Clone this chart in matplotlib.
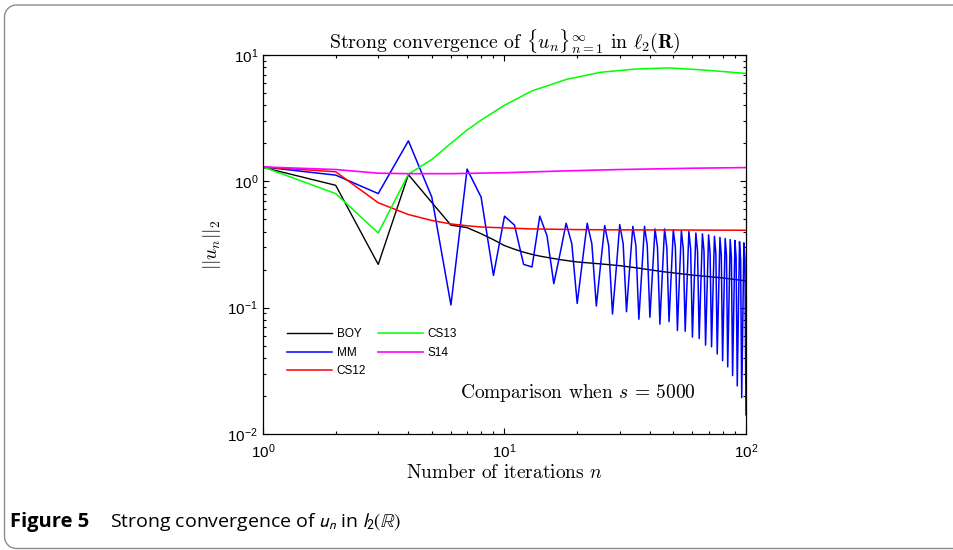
import matplotlib
matplotlib.use("Agg")
import numpy as np
import matplotlib.pyplot as plt
from matplotlib.lines import Line2D
from matplotlib.ticker import LogLocator, NullFormatter

plt.rcParams["mathtext.fontset"] = "cm"
plt.rcParams["font.family"] = ["Liberation Sans", "DejaVu Sans"]

# MM: every iteration n = 1..100
mm_n = list(range(1, 101))
mm_vals = [
    1.30, 1.12, 0.80, 2.09, 0.75, 0.105, 1.25, 0.75, 0.18, 0.53,
    0.45, 0.22, 0.21, 0.53, 0.37, 0.155, 0.27, 0.466, 0.32, 0.108,
    0.23, 0.466, 0.32, 0.103, 0.22, 0.447, 0.31, 0.089, 0.20, 0.455,
    0.32, 0.093, 0.21, 0.44, 0.31, 0.081, 0.19, 0.44, 0.31, 0.084,
    0.19, 0.42, 0.30, 0.074, 0.18, 0.42, 0.30, 0.0775, 0.18, 0.413,
    0.30, 0.066, 0.17, 0.407, 0.29, 0.065, 0.16, 0.40, 0.29, 0.0585,
    0.155, 0.39, 0.28, 0.057, 0.15, 0.384, 0.28, 0.0505, 0.14, 0.377,
    0.27, 0.049, 0.135, 0.367, 0.27, 0.043, 0.125, 0.36, 0.26, 0.038,
    0.12, 0.353, 0.26, 0.034, 0.11, 0.346, 0.25, 0.029, 0.10, 0.34,
    0.25, 0.024, 0.09, 0.333, 0.24, 0.0194, 0.08, 0.326, 0.24, 0.0142,
]

boy_n = [1, 2, 3, 4, 5, 6, 7, 8, 9, 10, 11, 12, 13, 14, 15, 17, 20, 25, 30, 35, 45, 60, 80, 100]
boy_vals = [1.29, 0.93, 0.22, 1.13, 0.68, 0.45, 0.43, 0.385, 0.345, 0.31, 0.29, 0.275,
            0.264, 0.256, 0.25, 0.24, 0.23, 0.222, 0.215, 0.207, 0.193, 0.181, 0.172, 0.163]

cs12_n = [1, 2, 3, 4, 5, 6, 7, 8, 10, 13, 20, 30, 50, 100]
cs12_vals = [1.3, 1.19, 0.677, 0.546, 0.49, 0.46, 0.445, 0.435, 0.428, 0.42, 0.415, 0.413, 0.412, 0.41]

cs13_n = [1, 2, 3, 4, 5, 6, 7, 8, 10, 13, 18, 25, 35, 48, 64, 80, 100]
cs13_vals = [1.3, 0.8, 0.39, 1.14, 1.49, 2.0, 2.55, 3.05, 4.0, 5.2, 6.4, 7.3, 7.75, 7.9, 7.65, 7.4, 7.15]

s14_n = [1, 2, 3, 4, 6, 10, 18, 30, 60, 100]
s14_vals = [1.3, 1.24, 1.16, 1.15, 1.15, 1.17, 1.21, 1.24, 1.27, 1.285]

W, H = 954, 550
fig = plt.figure(figsize=(W / 100, H / 100), dpi=100)

# journal figure frame: open outline, right side runs off the picture
r, x0, yb, yt = 12, 4.5, 1.5, 545
t = np.linspace(0, np.pi / 2, 20)
top_corner = list(zip(x0 + r - r * np.sin(t), yt - r + r * np.cos(t)))
bot_corner = list(zip(x0 + r - r * np.cos(t), yb + r - r * np.sin(t)))
pts = [(W + 50, yt)] + top_corner + bot_corner + [(W + 50, yb)]
fx, fy = zip(*pts)
fig.add_artist(Line2D(np.array(fx) / W, np.array(fy) / H, transform=fig.transFigure,
                      color="#8c8c8c", lw=1.0))

ax = fig.add_axes([263 / W, 1 - 434 / H, 483 / W, 379 / H])

ax.plot(boy_n, boy_vals, color="black", lw=1.0, label="BOY")
ax.plot(mm_n, mm_vals, color="blue", lw=1.1, label="MM")
ax.plot(cs12_n, cs12_vals, color="red", lw=1.1, label="CS12")
ax.plot(cs13_n, cs13_vals, color="#00ff00", lw=1.1, label="CS13")
ax.plot(s14_n, s14_vals, color="magenta", lw=1.2, label="S14")

ax.set_xscale("log")
ax.set_yscale("log")
ax.set_xlim(1, 100)
ax.set_ylim(0.01, 10)
ax.xaxis.set_minor_locator(LogLocator(base=10, subs=range(2, 10)))
ax.yaxis.set_minor_locator(LogLocator(base=10, subs=range(2, 10)))
ax.xaxis.set_minor_formatter(NullFormatter())
ax.yaxis.set_minor_formatter(NullFormatter())
ax.tick_params(which="both", direction="in", top=True, right=True, labelsize=11)
ax.tick_params(axis="x", which="major", pad=6)
ax.tick_params(which="major", length=4.5, width=0.8)
ax.tick_params(which="minor", length=2.5, width=0.8)
for s in ax.spines.values():
    s.set_linewidth(0.9)

ax.set_title(r"Strong convergence of $\{u_n\}_{n=1}^{\infty}$ in $\ell_2(\mathbf{R})$",
             fontfamily="cmr10", fontsize=14.3, pad=5)
ax.set_xlabel(r"Number of iterations $n$", fontfamily="cmr10", fontsize=14, labelpad=2)
ax.set_ylabel(r"$||u_n||_2$", fontsize=14, labelpad=3)

ax.text(0.652, 0.108, r"Comparison when $s\,=\,5000$", transform=ax.transAxes,
        fontfamily="cmr10", fontsize=14, ha="center", va="center")

ax.legend(loc="upper left", bbox_to_anchor=(0.05, 0.279), ncol=2, frameon=False,
          fontsize=8.5, handlelength=3.8, handletextpad=0.4, labelspacing=0.55,
          columnspacing=1.0, borderpad=0, borderaxespad=0)

fig.text(10 / W, 1 - 522 / H, "Figure 5", fontfamily="Open Sans", fontweight="bold",
         fontsize=14.5, va="center", ha="left")
fig.text(110 / W, 1 - 522 / H, r"Strong convergence of $u_n$ in $l_2(\mathbb{R})$",
         fontfamily="Open Sans", fontsize=14, va="center", ha="left", math_fontfamily="stixsans")

fig.savefig("out.png", dpi=100)
